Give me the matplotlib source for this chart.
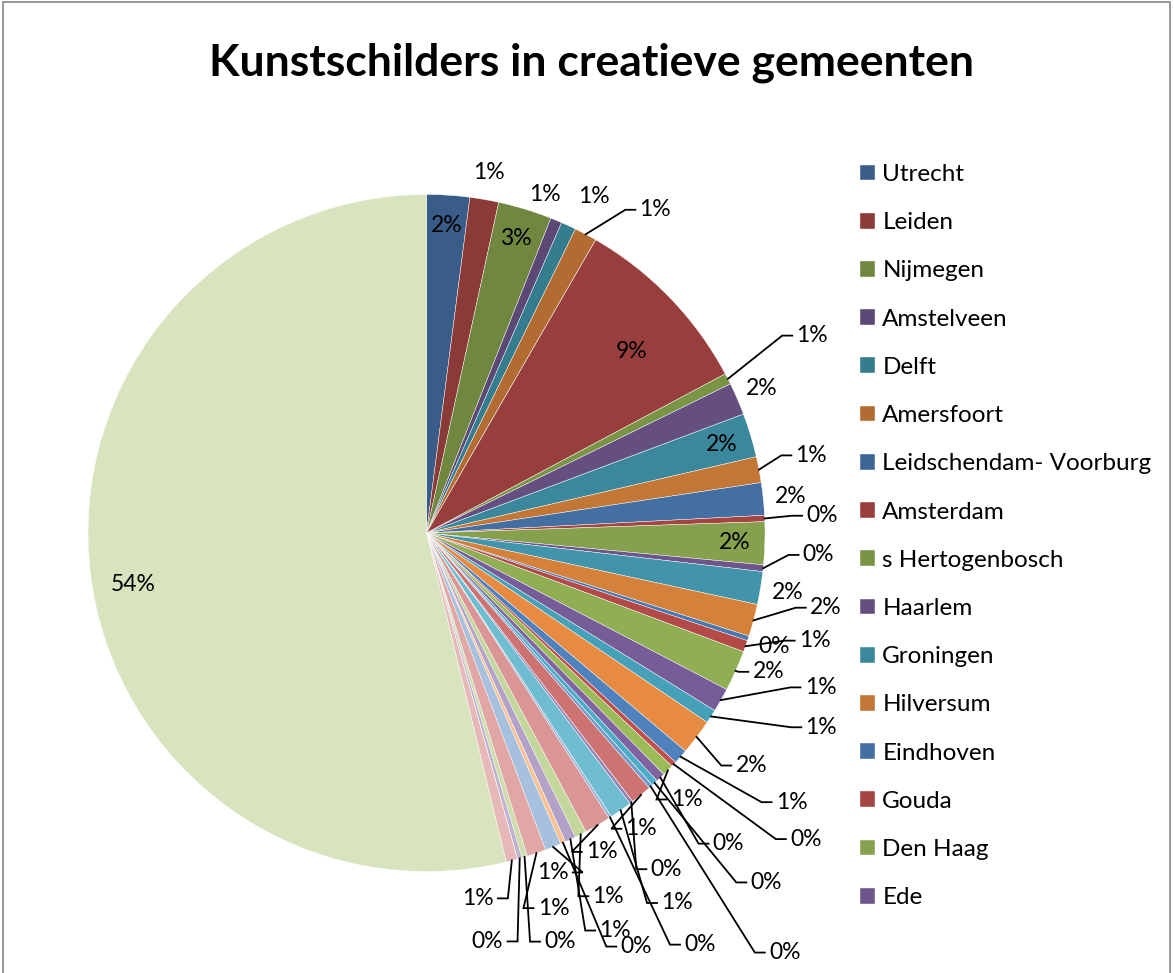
import colorsys
import numpy as np
import matplotlib
matplotlib.use("Agg")
import matplotlib.pyplot as plt
from matplotlib.colors import to_rgb
from matplotlib.patches import Rectangle

plt.rcParams['font.family'] = ['Lato', 'DejaVu Sans']

titel = "Kunstschilders in creatieve gemeenten"
# alleen deze 16 namen staan in de legenda
gemeenten = ["Utrecht", "Leiden", "Nijmegen", "Amstelveen", "Delft", "Amersfoort",
             "Leidschendam- Voorburg", "Amsterdam", "s Hertogenbosch", "Haarlem",
             "Groningen", "Hilversum", "Eindhoven", "Gouda", "Den Haag", "Ede"]
# aandeel kunstschilders (%) per gemeente, in de volgorde van de taart
aandeel = [2.05, 1.38, 2.57, 0.55, 0.72, 1.08, 0.0, 8.9, 0.53, 1.55,
           2.1, 1.24, 1.55, 0.3, 2.04, 0.32, 1.57, 1.54, 0.23, 0.55,
           1.95, 1.14, 0.66, 1.7, 0.7, 0.26, 0.54, 0.44, 0.3, 0.0,
           0.2, 1.0, 0.0, 0.17, 1.07, 0.0, 0.13, 1.26, 0.55, 0.53,
           0.0, 0.24, 0.77, 0.91, 0.26, 0.22, 0.0, 0.0, 0.0, 0.55,
           53.9]

# plek van labels met aanwijslijn: index -> (hoek in graden vanaf boven, afstand in stralen)
label_plek = {5: (35.3, 1.17), 8: (62.9, 1.28), 11: (78.6, 1.16), 13: (87.5, 1.17),
              15: (93.2, 1.16), 17: (100.6, 1.20), 19: (105.5, 1.19), 20: (112.1, 1.09),
              21: (111.4, 1.25), 22: (116.2, 1.30), 23: (125.6, 1.18),
              24: (126.4, 1.34), 25: (128.9, 1.44), 26: (135.7, 1.10), 27: (135.8, 1.28),
              28: (135.8, 1.44), 30: (139.5, 1.63), 31: (144.0, 1.08), 33: (144.5, 1.22),
              34: (145.9, 1.32), 36: (146.4, 1.46), 37: (151.2, 1.075), 38: (153.4, 1.20),
              39: (154.6, 1.30), 41: (153.1, 1.37), 42: (159.6, 1.07), 43: (161.3, 1.17),
              44: (161.9, 1.27), 45: (171.5, 1.22), 49: (172.0, 1.09)}
# labels die verschoven zijn maar geen lijn hebben
label_vrij = {3: (19.3, 1.06), 4: (26.4, 1.11), 7: (48.5, 0.81), 50: (260.0, 0.88)}

# Office-kleuren: elke ronde van zes een stap lichter
basis = ["#4F81BD", "#C0504D", "#9BBB59", "#8064A2", "#4BACC6", "#F79646"]
tint = [-0.28, -0.21, -0.14, -0.07, 0.0, 0.2, 0.4, 0.5, 0.6]


def kleur(i):
    rgb = to_rgb(basis[i % 6])
    t = tint[i // 6]
    if t < 0:
        return tuple(c * (1 + t) for c in rgb)
    h, l, s = colorsys.rgb_to_hls(*rgb)
    return colorsys.hls_to_rgb(h, l + (1 - l) * t, s)


W, H = 1174, 973
cx, cy, r = 426.5, 440, 338.5

fig = plt.figure(figsize=(W / 100, H / 100), dpi=100)
ax = fig.add_axes([0, 0, 1, 1])
wedges, _ = ax.pie(aandeel, colors=[kleur(i) for i in range(len(aandeel))],
                   startangle=90, counterclock=False, center=(cx, cy), radius=r,
                   wedgeprops=dict(edgecolor='white', linewidth=0.3))
ax.set_xlim(0, W)
ax.set_ylim(0, H)
ax.set_aspect('equal')
ax.axis('off')

# percentage-labels
totaal = sum(aandeel)
cum = np.cumsum([0] + aandeel)
for i, v in enumerate(aandeel):
    if v == 0:
        continue
    pct = v / totaal * 100
    tekst = f"{int(pct + 0.5)}%"
    mid = np.radians((cum[i] + cum[i + 1]) / 2 / totaal * 360)
    lijn = False
    if i in label_plek:
        a, d = np.radians(label_plek[i][0]), label_plek[i][1]
        lijn = True
    elif i in label_vrij:
        a, d = np.radians(label_vrij[i][0]), label_vrij[i][1]
    elif pct >= 2.0:
        a, d = mid, 0.91
    else:
        a, d = mid, 1.08
    x = cx + d * r * np.sin(a)
    y = cy + d * r * np.cos(a)
    ax.text(x, y, tekst, ha='center', va='center', fontsize=16.5, color='black')
    if lijn:
        rx = cx + r * np.sin(mid)
        ry = cy + r * np.cos(mid)
        hw = 18
        if rx <= x:
            ex, sx = x - hw - 2, x - hw - 12
        else:
            ex, sx = x + hw + 2, x + hw + 12
        ax.plot([rx, sx, ex], [ry, y, y], color='black', lw=1.3, solid_joinstyle='miter')

ax.legend(wedges[:len(gemeenten)], gemeenten, loc='upper left',
          bbox_to_anchor=(860 / W, 1 - 164 / H), bbox_transform=fig.transFigure,
          frameon=False, fontsize=17.5, handlelength=0.62, handleheight=0.62,
          handletextpad=0.3, labelspacing=1.12, borderaxespad=0, borderpad=0)

fig.text(592 / W, 1 - 75 / H, titel, ha='center', va='baseline',
         fontsize=32, fontweight='bold')

# grijze rand om de grafiek
fig.patches.append(Rectangle((3 / W, -0.05), 1167 / W, 1.05 - 2.5 / H,
                             transform=fig.transFigure, fill=False,
                             edgecolor='#868686', linewidth=1.2))

fig.savefig("out.png", dpi=100)
